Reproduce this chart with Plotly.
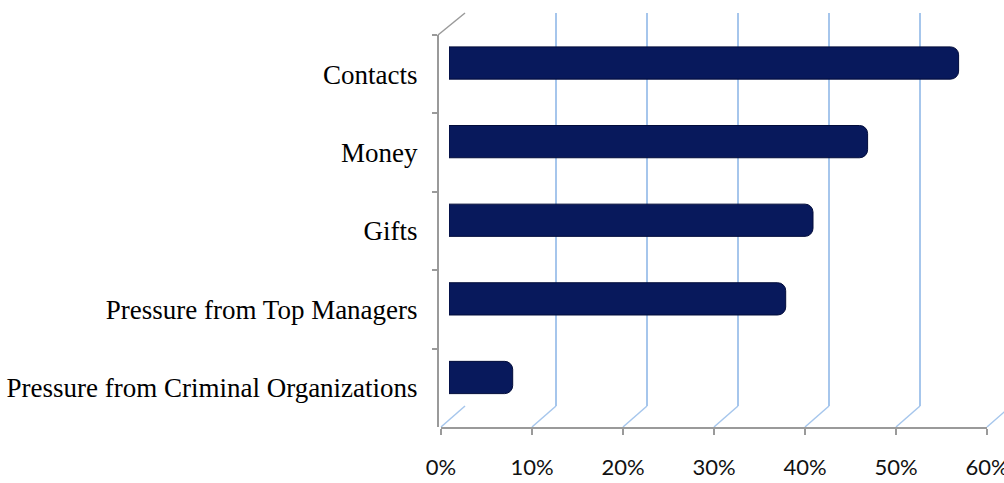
import plotly.graph_objects as go

# ---------------- data ----------------
CATEGORIES = [
    "Contacts",
    "Money",
    "Gifts",
    "Pressure from Top Managers",
    "Pressure from Criminal Organizations",
]
VALUES = [0.56, 0.46, 0.40, 0.37, 0.07]
X_TICKS = [0.0, 0.1, 0.2, 0.3, 0.4, 0.5, 0.6]
X_TICK_LABELS = ["0%", "10%", "20%", "30%", "40%", "50%", "60%"]

# ---------------- layout helpers ----------------
W, H = 1004, 483
XMAX = 0.6
PX_PER_UNIT = 910.0          # pixels per 100 %


def fx(px):
    return px / W


def fy(py):
    return 1 - py / H


GRID_BLUE = "#a6c6ec"
AXIS_GRAY = "#9a9a9a"
BAR_COLOR = "#08195c"
BAR_EDGE = "#020c3a"

fig = go.Figure()

# invisible trace to register the front (category) axis
fig.add_trace(go.Scatter(
    x=[0] * len(CATEGORIES), y=CATEGORIES, xaxis="x2", yaxis="y2",
    mode="markers", marker=dict(opacity=0), hoverinfo="skip", showlegend=False,
))

# bars (drawn in the last subplot so they sit on top of the back-wall grid)
fig.add_trace(go.Bar(
    x=VALUES, y=CATEGORIES, orientation="h", xaxis="x3", yaxis="y3",
    width=0.41, marker=dict(color=BAR_COLOR, line=dict(color=BAR_EDGE, width=1)),
    showlegend=False, hoverinfo="x+y",
))

# dummy trace for the back wall subplot
fig.add_trace(go.Scatter(
    x=[0], y=[0], xaxis="x", yaxis="y", mode="markers",
    marker=dict(opacity=0), hoverinfo="skip", showlegend=False,
))

back_left = 465
front_left = 441
depth_dx = 24
depth_dy = 21

shapes = []
for v in X_TICKS:
    shapes.append(dict(
        type="line", xref="x2 domain", yref="y2 domain",
        xsizemode="pixel", ysizemode="pixel",
        xanchor=v / XMAX, yanchor=0,
        x0=0, x1=depth_dx, y0=0, y1=depth_dy,
        line=dict(color=GRID_BLUE, width=1.5), layer="below",
    ))
# top-left depth edge
shapes.append(dict(
    type="line", xref="x2 domain", yref="y2 domain",
    xsizemode="pixel", ysizemode="pixel",
    xanchor=0, yanchor=1,
    x0=-3, x1=depth_dx, y0=0, y1=22,
    line=dict(color=AXIS_GRAY, width=1.5), layer="below",
))

fig.update_layout(
    width=W, height=H, autosize=False,
    margin=dict(l=0, r=0, t=0, b=0, autoexpand=False),
    paper_bgcolor="white", plot_bgcolor="rgba(0,0,0,0)",
    barcornerradius=8,
    shapes=shapes,
    # back wall grid
    xaxis=dict(
        domain=[fx(back_left), 1], range=[0, (W - back_left) / PX_PER_UNIT],
        tickvals=X_TICKS, showgrid=True, gridcolor=GRID_BLUE, gridwidth=1.5,
        showticklabels=False, ticks="", zeroline=False, showline=False,
        anchor="y", fixedrange=True, automargin=False,
    ),
    yaxis=dict(
        domain=[fy(406), fy(13)], range=[0, 1], showgrid=False,
        showticklabels=False, zeroline=False, showline=False, ticks="",
        anchor="x", fixedrange=True, automargin=False,
    ),
    # front axes
    xaxis2=dict(
        domain=[fx(front_left), fx(front_left + XMAX * PX_PER_UNIT)],
        range=[0, XMAX], tickvals=X_TICKS, ticktext=X_TICK_LABELS,
        ticks="outside", ticklen=6, tickwidth=2, tickcolor=AXIS_GRAY,
        showline=True, linecolor=AXIS_GRAY, linewidth=2,
        showgrid=False, zeroline=False, anchor="y2",
        tickfont=dict(family="Lato", size=22, color="#111111"),
        ticklabelstandoff=14, ticklabeloverflow="allow",
        fixedrange=True, automargin=False,
    ),
    yaxis2=dict(
        domain=[fy(427), fy(35)], type="category",
        categoryorder="array", categoryarray=CATEGORIES,
        range=[len(CATEGORIES) - 0.5, -0.5], tickson="boundaries",
        ticks="outside", ticklen=5, tickwidth=2, tickcolor=AXIS_GRAY,
        showline=True, linecolor=AXIS_GRAY, linewidth=2,
        showgrid=False, zeroline=False, anchor="free", position=fx(438),
        tickfont=dict(family="Liberation Serif", size=27, color="#000000"),
        ticklabelstandoff=14, fixedrange=True, automargin=False,
    ),
    # bars
    xaxis3=dict(
        domain=[fx(449), fx(449 + XMAX * PX_PER_UNIT)], range=[0, XMAX],
        visible=False, anchor="y3", fixedrange=True, automargin=False,
    ),
    yaxis3=dict(
        domain=[fy(416.8), fy(23.7)], type="category",
        categoryorder="array", categoryarray=CATEGORIES,
        range=[len(CATEGORIES) - 0.5, -0.5],
        visible=False, anchor="x3", fixedrange=True, automargin=False,
    ),
)

fig.write_html(
    "out.html",
    config={"displayModeBar": False},
    post_script="document.body.style.margin='0';document.body.style.overflow='hidden';",
)
